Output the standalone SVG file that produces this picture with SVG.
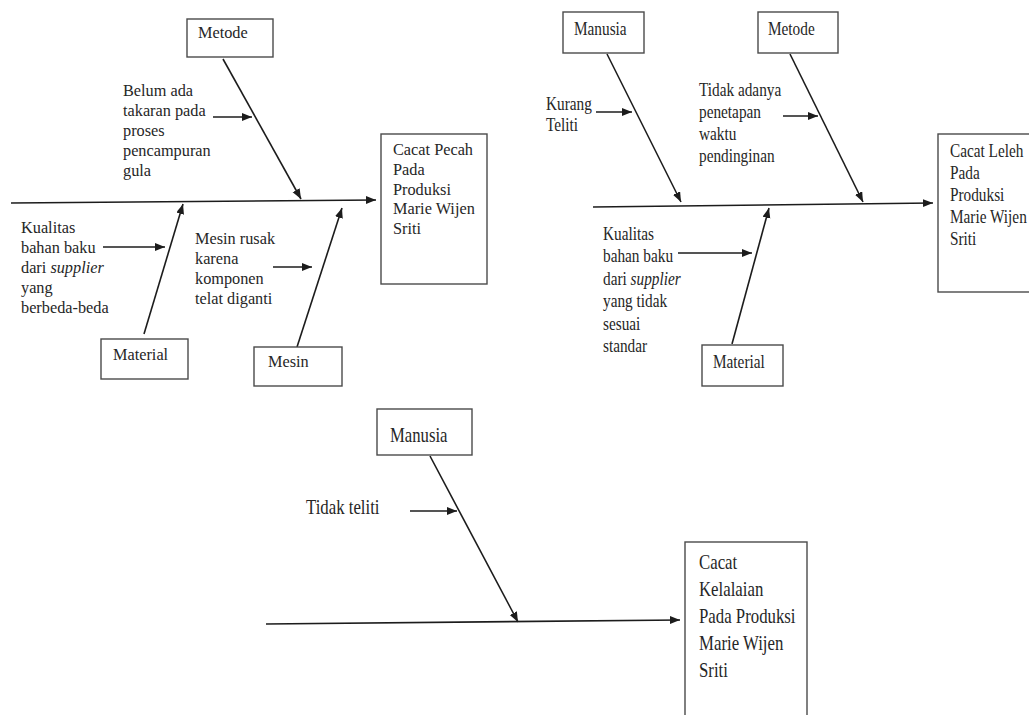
<svg xmlns="http://www.w3.org/2000/svg" width="1029" height="715" viewBox="0 0 1029 715">
<style>
  .bg { fill: #ffffff; }
  .box { fill: #ffffff; stroke: #4a4a4a; stroke-width: 1.4; }
  .ln { stroke: #1c1c1c; stroke-width: 1.6; fill: none; }
  .lnA { stroke: #1c1c1c; stroke-width: 1.6; fill: none; marker-end: url(#ah); }
  text { font-family: "Liberation Serif", "Times New Roman", serif; fill: #262626; }
  .t1 { font-size: 16.3px; }
  .t2 { font-size: 18px; }
  .t3 { font-size: 21px; }
  .t3l { font-size: 22px; }
  .it { font-style: italic; }
</style>
<defs>
  <marker id="ah" markerUnits="userSpaceOnUse" markerWidth="12" markerHeight="10" refX="10" refY="4" orient="auto">
    <path d="M0,0 L10,4 L0,8 Z" fill="#1c1c1c"/>
  </marker>
</defs>
<rect class="bg" x="0" y="0" width="1029" height="715"/>

<g id="connectors">
  <!-- diagram 1 -->
  <line class="lnA" x1="11" y1="203" x2="376" y2="200"/>
  <line class="lnA" x1="223" y1="59" x2="301" y2="199"/>
  <line class="lnA" x1="144" y1="334" x2="183" y2="204"/>
  <line class="lnA" x1="297" y1="347" x2="342" y2="208"/>
  <line class="lnA" x1="213" y1="117" x2="252" y2="117"/>
  <line class="lnA" x1="103" y1="247" x2="165" y2="247"/>
  <line class="lnA" x1="273" y1="267" x2="312" y2="267"/>
  <!-- diagram 2 -->
  <line class="lnA" x1="593" y1="207" x2="933" y2="203"/>
  <line class="lnA" x1="607" y1="54" x2="681" y2="202"/>
  <line class="lnA" x1="790" y1="54" x2="863" y2="202"/>
  <line class="lnA" x1="732" y1="344" x2="769" y2="208"/>
  <line class="lnA" x1="596" y1="112" x2="632" y2="112"/>
  <line class="lnA" x1="783" y1="116" x2="818" y2="116"/>
  <line class="lnA" x1="678" y1="253" x2="752" y2="253"/>
  <!-- diagram 3 -->
  <line class="lnA" x1="266" y1="624" x2="680" y2="620"/>
  <line class="lnA" x1="430" y1="456" x2="518" y2="622"/>
  <line class="lnA" x1="410" y1="511" x2="457" y2="511"/>
</g>

<!-- Diagram 1 -->
<g id="d1-metode">
  <rect class="box" x="187" y="19" width="86" height="38"/>
  <text class="t1" x="198" y="38">Metode</text>
</g>
<g id="d1-material">
  <rect class="box" x="101" y="339" width="87" height="40"/>
  <text class="t1" x="113" y="360">Material</text>
</g>
<g id="d1-mesin">
  <rect class="box" x="254" y="347" width="88" height="39"/>
  <text class="t1" x="268" y="367">Mesin</text>
</g>
<g id="d1-effect">
  <rect class="box" x="381" y="134" width="106" height="150"/>
  <text class="t1" x="393" y="155">Cacat Pecah<tspan x="393" dy="19.8">Pada</tspan><tspan x="393" dy="19.8">Produksi</tspan><tspan x="393" dy="19.8">Marie Wijen</tspan><tspan x="393" dy="19.8">Sriti</tspan></text>
</g>
<g id="d1-cause-metode">
  <text class="t1" x="123" y="96">Belum ada<tspan x="123" dy="20">takaran pada</tspan><tspan x="123" dy="20">proses</tspan><tspan x="123" dy="20">pencampuran</tspan><tspan x="123" dy="20">gula</tspan></text>
</g>
<g id="d1-cause-material">
  <text class="t1" x="21" y="233">Kualitas<tspan x="21" dy="20">bahan baku</tspan><tspan x="21" dy="20">dari <tspan class="it">supplier</tspan></tspan><tspan x="21" dy="20">yang</tspan><tspan x="21" dy="20">berbeda-beda</tspan></text>
</g>
<g id="d1-cause-mesin">
  <text class="t1" x="195" y="244">Mesin rusak<tspan x="195" dy="20">karena</tspan><tspan x="195" dy="20">komponen</tspan><tspan x="195" dy="20">telat diganti</tspan></text>
</g>

<!-- Diagram 2 -->
<g id="d2-manusia">
  <rect class="box" x="563" y="12" width="81" height="41"/>
  <text class="t2" transform="translate(574,35) scale(0.85,1)">Manusia</text>
</g>
<g id="d2-metode">
  <rect class="box" x="758" y="12" width="80" height="41"/>
  <text class="t2" transform="translate(768,35) scale(0.85,1)">Metode</text>
</g>
<g id="d2-material">
  <rect class="box" x="702" y="345" width="81" height="41"/>
  <text class="t2" transform="translate(713,368) scale(0.85,1)">Material</text>
</g>
<g id="d2-effect">
  <rect class="box" x="938" y="134" width="100" height="158"/>
  <text class="t2" transform="translate(950,157) scale(0.85,1)">Cacat Leleh<tspan x="0" dy="22">Pada</tspan><tspan x="0" dy="22">Produksi</tspan><tspan x="0" dy="22">Marie Wijen</tspan><tspan x="0" dy="22">Sriti</tspan></text>
</g>
<g id="d2-cause-manusia">
  <text class="t2" transform="translate(546,110) scale(0.85,1)">Kurang<tspan x="0" dy="21.5">Teliti</tspan></text>
</g>
<g id="d2-cause-metode">
  <text class="t2" transform="translate(699,96) scale(0.85,1)">Tidak adanya<tspan x="0" dy="22">penetapan</tspan><tspan x="0" dy="22">waktu</tspan><tspan x="0" dy="22">pendinginan</tspan></text>
</g>
<g id="d2-cause-material">
  <text class="t2" transform="translate(603,240) scale(0.85,1)">Kualitas<tspan x="0" dy="22.4">bahan baku</tspan><tspan x="0" dy="22.4">dari <tspan class="it">supplier</tspan></tspan><tspan x="0" dy="22.4">yang tidak</tspan><tspan x="0" dy="22.4">sesuai</tspan><tspan x="0" dy="22.4">standar</tspan></text>
</g>

<!-- Diagram 3 -->
<g id="d3-manusia">
  <rect class="box" x="377" y="409" width="95" height="46"/>
  <text class="t3l" transform="translate(390,442) scale(0.76,1)">Manusia</text>
</g>
<g id="d3-effect">
  <rect class="box" x="685" y="542" width="122" height="180"/>
  <text class="t3" transform="translate(699,569) scale(0.8,1)">Cacat<tspan x="0" dy="27">Kelalaian</tspan><tspan x="0" dy="27">Pada Produksi</tspan><tspan x="0" dy="27">Marie Wijen</tspan><tspan x="0" dy="27">Sriti</tspan></text>
</g>
<g id="d3-cause-manusia">
  <text class="t3" transform="translate(306,514) scale(0.8,1)">Tidak teliti</text>
</g>
</svg>
